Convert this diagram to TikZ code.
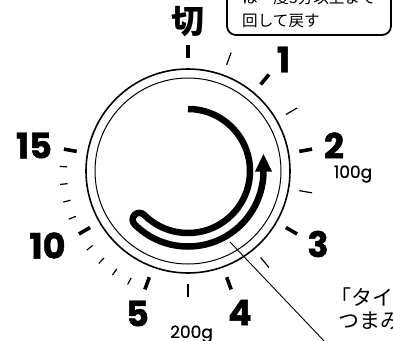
\documentclass[tikz,border=0pt]{standalone}
\usepackage{fontspec}
\newfontfamily\numf{Poppins}
\newfontfamily\jp{Noto Sans CJK JP}
\begin{document}
\begin{tikzpicture}[x=1pt,y=-1pt,
  majortick/.style={line width=3.6pt},
  minortick/.style={line width=1.2pt},
  shorttick/.style={line width=1.2pt},
  numlbl/.style={font=\numf\bfseries\addfontfeature{FakeBold=1.2}\fontsize{35}{35}\selectfont, inner sep=0pt},
  gramlbl/.style={font=\numf\addfontfeature{FakeBold=0.6}\fontsize{17}{17}\selectfont, inner sep=0pt, anchor=base},
  jptxt/.style={font=\jp\fontsize{15.6}{15.6}\selectfont, inner sep=0pt, anchor=west},
  jpbig/.style={font=\jp\fontsize{21}{21}\selectfont, inner sep=0pt, anchor=west}]
\useasboundingbox (0,0) rectangle (393,340);
\clip (0,0) rectangle (393,340);
\fill[white] (0,0) rectangle (393,340);
\coordinate (C) at (188,171);
% dial rings
\draw[line width=1.6pt] (C) circle[radius=102pt];
\draw[line width=1pt] (C) circle[radius=93pt];
% ticks
\foreach \t in {0,40,...,280}
  \draw[majortick] ({188+113*sin(\t)},{171-113*cos(\t)}) -- ({188+126*sin(\t)},{171-126*cos(\t)});
\foreach \t in {20,60,100,140,180}
  \draw[minortick] ({188+113*sin(\t)},{171-113*cos(\t)}) -- ({188+126*sin(\t)},{171-126*cos(\t)});
\foreach \t in {208,216,224,232,248,256,264,272}
  \draw[shorttick] ({188+121*sin(\t)},{171-121*cos(\t)}) -- ({188+128.5*sin(\t)},{171-128.5*cos(\t)});
% labels
\node[font=\jp\bfseries\fontsize{33}{33}\selectfont, inner sep=0pt] (off) at (188,21.5) {切};
\node[numlbl] (n1) at (283.5,59.5) {1};
\node[numlbl] (n2) at (334,145.5) {2};
\node[numlbl] (n3) at (318,244) {3};
\node[numlbl] (n4) at (240,312.5) {4};
\node[numlbl] (n5) at (137.5,313.5) {5};
\node[numlbl] (n10) at (47.5,245.5) {10};
\node[numlbl] (n15) at (34,145.5) {15};
\node[gramlbl] (g100) at (353,178) {100g};
\node[gramlbl] (g200) at (191.5,338) {200g};
% knob arrow
\draw[line width=6.5pt] (188,109) arc[start angle=-90, end angle=135, radius=62]
  arc[start angle=315, end angle=135, radius=6.75]
  arc[start angle=135, end angle=-1, radius=75.5];
\fill (263.5,154) -- (255,171.5) -- (272,171.5) -- cycle;
% leader
\coordinate (lead0) at (230,242);
\coordinate (lead1) at (345,363);
\draw[line width=0.9pt] (lead0) -- (lead1);
% callout box
\draw[line width=1.8pt, rounded corners=9pt] (227,-30) rectangle (391,35);
\node[jptxt] (t1) at (242,-2) {は一度3分以上まで};
\node[jptxt] (t2) at (242,20.5) {回して戻す};
% bottom right text
\node[jpbig] (b1) at (330,297.5) {「タイマー};
\node[jpbig] (b2) at (338,321) {つまみ};
\end{tikzpicture}
\end{document}
